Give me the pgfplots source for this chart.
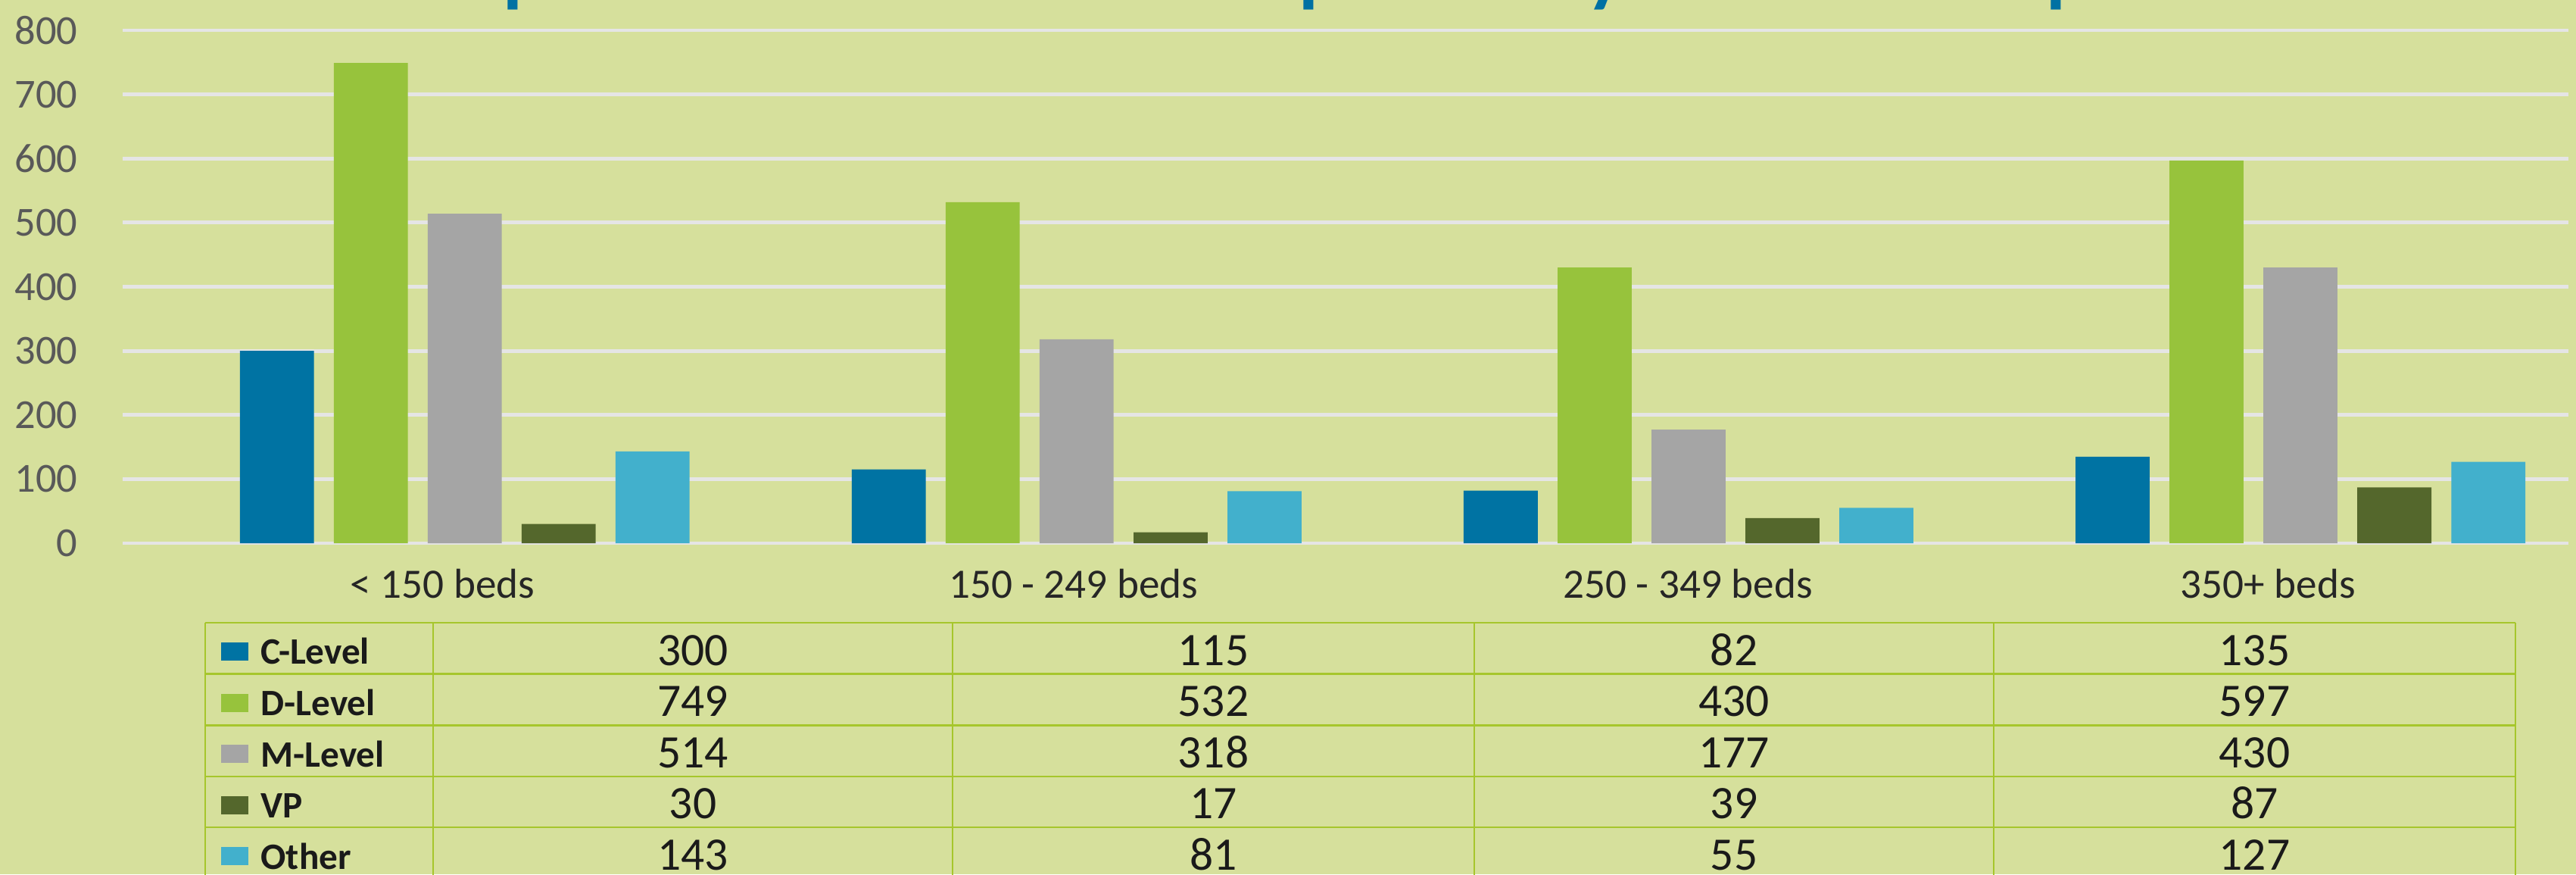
\documentclass[border=0pt]{standalone}
\usepackage{pgfplots}
\pgfplotsset{compat=1.18}
\usepackage{pgfplotstable}
\usepackage{fontspec}
\setmainfont{Carlito}
\definecolor{bg}{RGB}{214,224,156}
\definecolor{gridc}{RGB}{229,229,229}
\definecolor{cC}{RGB}{0,115,163}
\definecolor{cD}{RGB}{151,195,60}
\definecolor{cM}{RGB}{165,165,165}
\definecolor{cV}{RGB}{84,103,44}
\definecolor{cO}{RGB}{66,176,204}
\definecolor{tline}{RGB}{166,198,44}
\definecolor{ticktxt}{RGB}{89,89,89}
\definecolor{cattxt}{RGB}{38,38,38}
\definecolor{tabtxt}{RGB}{26,26,26}
\definecolor{titleblue}{RGB}{0,113,163}

\pgfplotstableread{
cat C D M VP O
0 300 749 514 30 143
1 115 532 318 17 81
2 82 430 177 39 55
3 135 597 430 87 127
}\data

\begin{document}
\begin{tikzpicture}
\path[use as bounding box, fill=bg] (0,0) rectangle (34.02,11.54);
% fragments of the cropped title (only descenders visible)
\begin{scope}[every node/.style={anchor=base west, inner sep=0pt, text=titleblue, font=\bfseries\fontsize{30}{36}\selectfont}]
\node at (6.64,11.57) {p};
\node at (17.15,11.57) {p};
\node at (20.95,11.57) {y};
\node at (27.02,11.57) {p};
\end{scope}
\begin{axis}[at={(1.62cm,4.37cm)}, anchor=south west, scale only axis,
 width=32.30cm, height=6.77cm,
 xmin=-0.559, xmax=3.438, ymin=0, ymax=800,
 ybar, bar width=0.121,
 axis line style={draw=none}, major tick length=0pt,
 ytick={0,100,...,800}, ymajorgrids, grid style={draw=gridc, line width=1.4pt},
 xtick={-0.036,0.995,1.999,2.947},
 xticklabels={{< 150 beds},{150 - 249 beds},{250 - 349 beds},{350+ beds}},
 yticklabel style={anchor=east, inner sep=0pt, xshift=-0.59cm, font=\fontsize{15.5}{18}\selectfont, text=ticktxt},
 xticklabel style={anchor=base, inner sep=0pt, yshift=-0.72cm, font=\fontsize{15.7}{18}\selectfont, text=cattxt},
 /pgf/number format/assume math mode=true,
]
\addplot[fill=cC, draw=none, bar shift=-0.307] table[x expr=\coordindex, y=C] {\data};
\addplot[fill=cD, draw=none, bar shift=-0.1535] table[x expr=\coordindex, y=D] {\data};
\addplot[fill=cM, draw=none, bar shift=0] table[x expr=\coordindex, y=M] {\data};
\addplot[fill=cV, draw=none, bar shift=0.1535] table[x expr=\coordindex, y=VP] {\data};
\addplot[fill=cO, draw=none, bar shift=0.307] table[x expr=\coordindex, y=O] {\data};
\end{axis}
% data table below the chart
\foreach \yy in {3.32,2.645,1.965,1.29,0.62,-0.06}
  \draw[tline, line width=0.8pt] (2.71,\yy) -- (33.22,\yy);
\foreach \xx in {2.71,5.72,12.58,19.47,26.33,33.22}
  \draw[tline, line width=0.8pt] (\xx,3.32) -- (\xx,-0.3);
\foreach \col/\row/\lab/\clr in {C/0/C-Level/cC, D/1/D-Level/cD, M/2/M-Level/cM, VP/3/VP/cV, O/4/Other/cO} {
  \pgfmathsetmacro{\yc}{2.985-\row*0.6762}
  \fill[\clr] (2.92,\yc-0.165) rectangle (3.28,\yc+0.075);
  \node[anchor=base west, inner sep=0pt, text=tabtxt, font=\bfseries\fontsize{14}{17}\selectfont] at (3.44,\yc-0.215) {\lab};
  \foreach \r in {0,...,3} {
    \pgfmathsetmacro{\xc}{9.15+\r*6.875}
    \pgfplotstablegetelem{\r}{\col}\of\data
    \node[anchor=base, inner sep=0pt, text=tabtxt, font=\fontsize{17.5}{21}\selectfont] at (\xc,\yc-0.225) {\pgfplotsretval};
  }
}
\end{tikzpicture}
\end{document}
